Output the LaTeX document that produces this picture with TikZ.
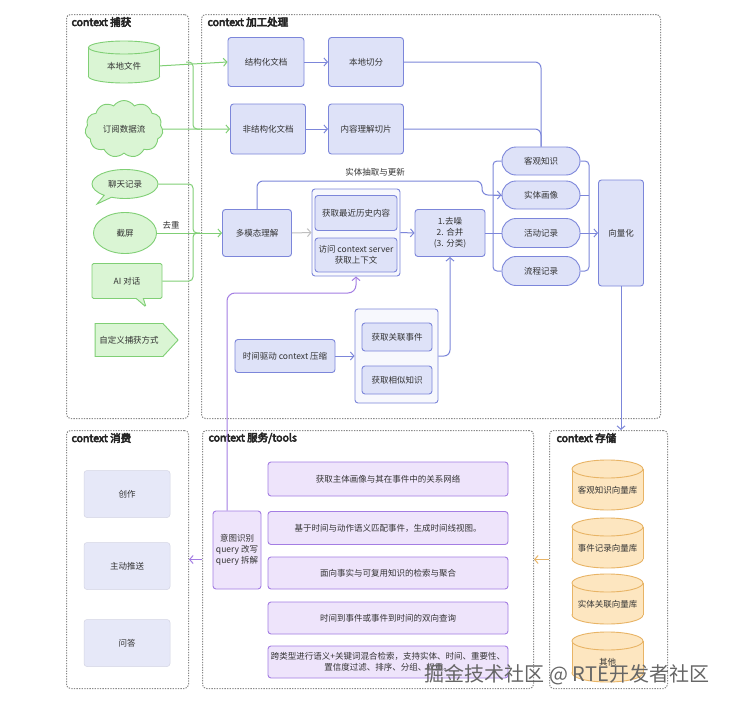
\documentclass[tikz,border=0pt]{standalone}
\usepackage{fontspec}
\setmainfont{Noto Sans CJK SC}[BoldFont={Noto Sans CJK SC}, BoldFeatures={FakeBold=5}]
\usetikzlibrary{shapes.geometric,shapes.symbols,shapes.callouts,arrows.meta}
\definecolor{gstroke}{HTML}{80CF75}
\definecolor{gfill}{HTML}{DAF5D4}
\definecolor{bstroke}{HTML}{7C86DA}
\definecolor{bfill}{HTML}{DEE2F8}
\definecolor{pstroke}{HTML}{A47DE3}
\definecolor{pfill}{HTML}{EEE4FB}
\definecolor{ostroke}{HTML}{E8B466}
\definecolor{ofill}{HTML}{FDE6C0}
\definecolor{cfill}{HTML}{E6E8F8}
\definecolor{panelc}{HTML}{8A8A8A}
\definecolor{txt}{HTML}{333333}
\newcommand\lblfont{\fontsize{8.5}{11}\selectfont}
\newcommand\mycyl[9]{%
 \path[draw=#7, fill=#8, line width=0.9pt] (#2,#3+#5-#6) ellipse [x radius=#4pt, y radius=#6pt];
 \path[fill=#8] (#2-#4,#3-#5+#6) rectangle (#2+#4,#3+#5-#6);
 \path[draw=#7, line width=0.9pt] (#2-#4,#3-#5+#6) -- (#2-#4,#3+#5-#6) (#2+#4,#3-#5+#6) -- (#2+#4,#3+#5-#6);
 \path[draw=#7, fill=#8, line width=0.9pt] (#2,#3-#5+#6) ellipse [x radius=#4pt, y radius=#6pt];
 \node[lbl, minimum width={2*#4pt}, minimum height={2*(#5-#6)*1pt}, inner sep=0pt] (#1) at (#2,#3+0.6*#6) {#9};
}
\tikzset{
 lbl/.style={font=\lblfont, text=txt, align=center},
 panel/.style={draw=panelc, line width=1pt, dash pattern=on 1.3pt off 1.3pt, rounded corners=4pt, inner sep=0pt, anchor=north west},
 ptitle/.style={anchor=west, font=\fontsize{10.5}{13}\selectfont\bfseries, text=black!85},
 gbox/.style={lbl, draw=gstroke, fill=gfill, line width=0.9pt, inner sep=1pt},
 bbox/.style={lbl, draw=bstroke, fill=bfill, line width=0.9pt, rounded corners=3pt, inner sep=1pt},
 stad/.style={bbox, rounded corners=14pt, minimum width=78pt, minimum height=28pt},
 pbox/.style={lbl, draw=pstroke, fill=pfill, line width=0.9pt, rounded corners=3pt, inner sep=1pt, minimum width=240pt},
 cbox/.style={lbl, draw=cfill!92!black, fill=cfill, line width=0.5pt, rounded corners=3pt, minimum width=86pt, minimum height=47pt},
 tip/.style={-{Straight Barb[length=3.5pt,width=8pt]}},
 gl/.style={draw=gstroke, line width=1pt},
 bl/.style={draw=bstroke, line width=1pt},
 pl/.style={draw=pstroke, line width=1pt},
 wm/.style={font=\fontsize{20}{22}\selectfont},
}
\begin{document}
\begin{tikzpicture}[x=1pt,y=-1pt]
\useasboundingbox[fill=white] (0,0) rectangle (729,704);
% panels
\node[panel, minimum width=122pt, minimum height=404pt] (pcap) at (66,14) {};
\node[panel, minimum width=459pt, minimum height=404pt] (pproc) at (201,14) {};
\node[panel, minimum width=122pt, minimum height=258pt] (pcon) at (66,430) {};
\node[panel, minimum width=331pt, minimum height=258pt] (psrv) at (202,430) {};
\node[panel, minimum width=118pt, minimum height=258pt] (pst) at (549,430) {};
\node[ptitle] (tcap) at (68,22) {context 捕获};
\node[ptitle] (tproc) at (204,22) {context 加工处理};
\node[ptitle] (tcon) at (68,438) {context 消费};
\node[ptitle] (tsrv) at (205,438) {context 服务/tools};
\node[ptitle] (tst) at (553,438) {context 存储};

% capture
\mycyl{loc}{124}{62}{35.5}{21}{6.5}{gstroke}{gfill}{本地文件}
\node[cloud, cloud puffs=11, cloud puff arc=110, aspect=1.4, gbox, inner sep=0pt, minimum width=78pt, minimum height=57pt] (sub) at (124,129) {订阅数据流};
\node[ellipse callout, gbox, minimum width=66pt, minimum height=29pt, callout absolute pointer={(97,204)}] (chat) at (125,184) {聊天记录};
\node[ellipse, gbox, minimum width=63pt, minimum height=41pt] (shot) at (125,233) {截屏};
\node[rectangle callout, gbox, rounded corners=1.5pt, minimum width=70pt, minimum height=35pt, callout absolute pointer={(146,307)}] (ai) at (127,281) {AI 对话};
\node[signal, signal to=east, signal pointer angle=95, gbox, minimum width=83pt, minimum height=33pt] (cust) at (129,340) {自定义捕获方式};

% processing
\node[bbox, minimum width=76pt, minimum height=49pt] (struct) at (266,62) {结构化文档};
\node[bbox, minimum width=75pt, minimum height=49pt] (local) at (366,62) {本地切分};
\node[bbox, minimum width=75pt, minimum height=50pt] (unstruct) at (268,129) {非结构化文档};
\node[bbox, minimum width=75pt, minimum height=50pt] (content) at (366,129) {内容理解切片};
\node[stad] (obj) at (541,161) {客观知识};
\node[stad] (ent) at (541,195) {实体画像};
\node[stad, minimum height=29pt] (act) at (541,233) {活动记录};
\node[stad, minimum height=29pt] (flow) at (541,271) {流程记录};
\node[bbox, minimum width=45pt, minimum height=106pt] (vec) at (621,233) {向量化};
\node[bbox, minimum width=69pt, minimum height=47pt] (mm) at (257,233) {多模态理解};
\node[bbox, fill=bfill!25, minimum width=88pt, minimum height=87pt] (cont1) at (356,232.5) {};
\node[bbox, minimum width=82pt, minimum height=35pt] (hist) at (356,213) {获取最近历史内容};
\node[bbox, minimum width=82pt, minimum height=34pt] (ctx) at (356,255) {访问 context server\\获取上下文};
\node[bbox, minimum width=70pt, minimum height=47pt] (q) at (450,233) {1.去噪\\2. 合并\\(3. 分类)};
\node[bbox, fill=bfill!25, minimum width=83pt, minimum height=94pt] (cont2) at (396.5,356) {};
\node[bbox, minimum width=70pt, minimum height=28pt] (rel) at (397,337) {获取关联事件};
\node[bbox, minimum width=70pt, minimum height=28pt] (sim) at (397,380) {获取相似知识};
\node[bbox, minimum width=100pt, minimum height=33pt] (tc) at (285,356) {时间驱动 context 压缩};
\node[lbl] (extract) at (375,172) {实体抽取与更新};

% services
\node[pbox, minimum height=34pt] (s1) at (388,479) {获取主体画像与其在事件中的关系网络};
\node[pbox, minimum height=33pt] (s2) at (388,528) {基于时间与动作语义匹配事件，生成时间线视图。};
\node[pbox, minimum height=32pt] (s3) at (388,573) {面向事实与可复用知识的检索与聚合};
\node[pbox, minimum height=32pt] (s4) at (388,618) {时间到事件或事件到时间的双向查询};
\node[pbox, minimum height=32pt] (s5) at (388,662) {跨类型进行语义+关键词混合检索，支持实体、时间、重要性、\\置信度过滤、排序、分组、权重。};
\node[pbox, minimum width=48pt, minimum height=78pt, inner sep=0pt] (intent) at (237,550) {意图识别\\query 改写\\query 拆解};

% consumption
\node[cbox] (c1) at (127,494) {创作};
\node[cbox] (c2) at (127,566) {主动推送};
\node[cbox] (c3) at (127,643) {问答};

% storage
\mycyl{st1}{607.5}{485}{35.5}{25}{9}{ostroke}{ofill}{客观知识向量库}
\mycyl{st2}{607.5}{543}{35.5}{25}{9}{ostroke}{ofill}{事件记录向量库}
\mycyl{st3}{607.5}{599}{35.5}{25}{9}{ostroke}{ofill}{实体关联向量库}
\mycyl{st4}{607.5}{657}{35.5}{25}{9}{ostroke}{ofill}{其他}

% green connectors
\draw[gl, tip] (loc.east) -- (struct.west);
\draw[gl, tip] (sub.east) -- (unstruct.west);
\draw[gl, rounded corners=4pt] (186,62) -| (193,129) -- (200,129);
\draw[gl, rounded corners=4pt] (chat.east) -| (193,233) -- (200,233);
\draw[gl, rounded corners=4pt] (ai.east) -| (193,233) -- (200,233);
\draw[gl, tip] (shot.east) -- (mm.west);
\node[lbl] (dedup) at (171,225) {去重};

% blue connectors
\draw[bl, tip] (struct.east) -- (local.west);
\draw[bl, tip] (unstruct.east) -- (content.west);
\draw[bl, rounded corners=6pt] (local.east) -| (obj.north);
\draw[bl, rounded corners=6pt] (content.east) -| (obj.north);
\draw[draw=black!25, line width=1pt, tip] (mm.east) -- (cont1.west);
\draw[bl, tip] (cont1.east) -- (q.west);
\draw[bl, tip, rounded corners=6pt] (mm.north) |- (482,181) |- (ent.west);
\draw[bl] (q.east) -- (act.west);
\draw[bl, rounded corners=4pt] (obj.west) -| (493,233);
\draw[bl, rounded corners=4pt] (flow.west) -| (493,233);
\draw[bl] (ent.west) -- (493,195);
\draw[bl, rounded corners=4pt] (obj.east) -| (589,233);
\draw[bl, rounded corners=4pt] (flow.east) -| (589,233);
\draw[bl] (ent.east) -- (589,195);
\draw[bl, tip] (act.east) -- (vec.west);
\draw[bl, tip] (vec.south) -- (vec.south |- pst.north);
\draw[bl, tip] (tc.east) -- (cont2.west);
\draw[bl, tip, rounded corners=6pt] (cont2.east) -| (q.south);

% purple connectors
\draw[pl, tip, rounded corners=8pt] ([xshift=-10pt]intent.north) -- ([xshift=-10pt]intent.north |- 0,293) -- (cont1.south |- 0,293) -- (cont1.south);
\draw[pl, tip] (psrv.west) -- (pcon.east);
\draw[draw=ostroke, line width=1pt, tip] (pst.west) -- (psrv.east);

% watermark
\node[wm, text=black!60] (wmk) at (567,675) {掘金技术社区 @ RTE开发者社区};
\end{tikzpicture}
\end{document}
